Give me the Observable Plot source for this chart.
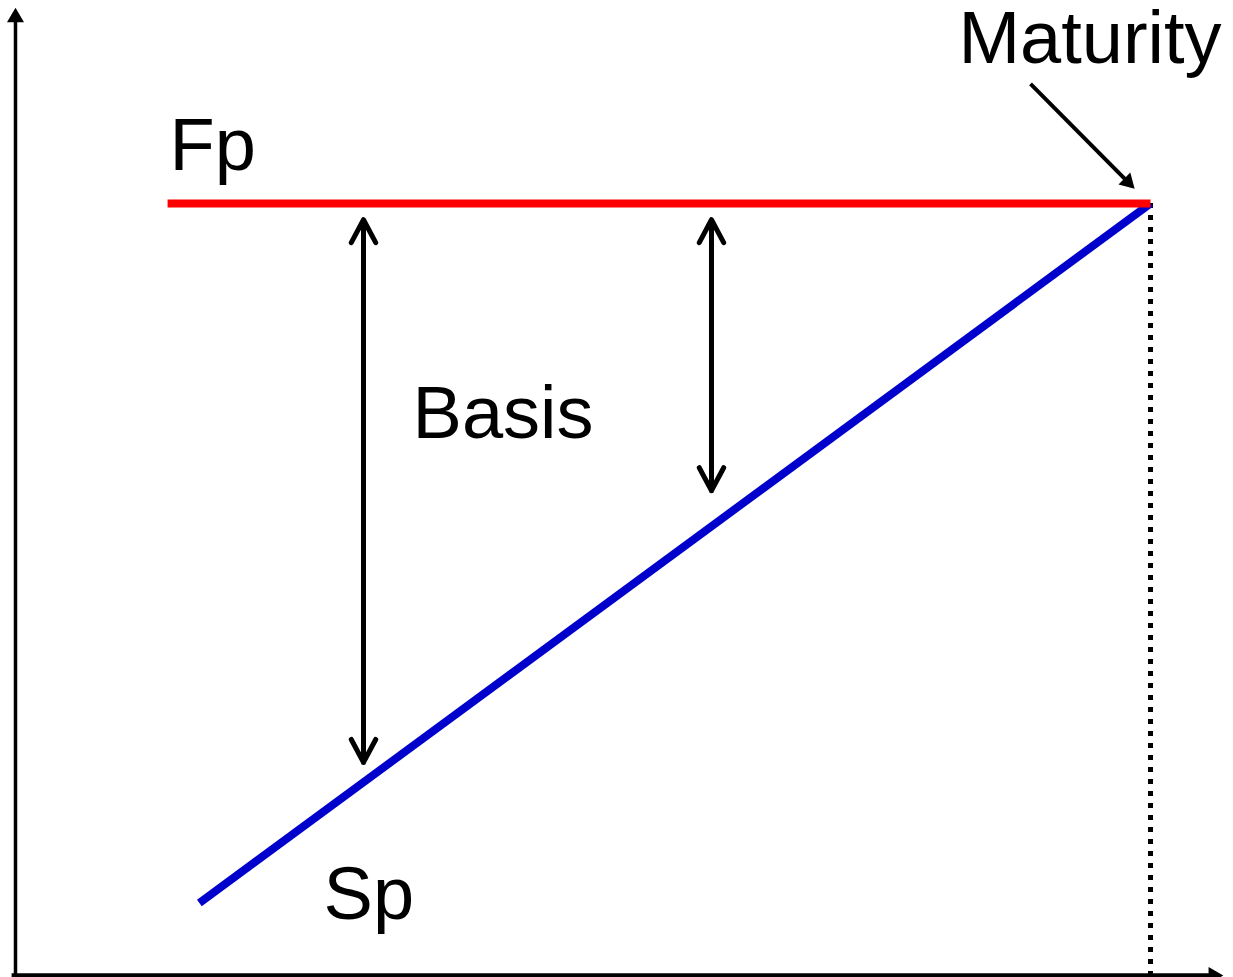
<!DOCTYPE html>
<html>
<head>
<meta charset="utf-8">
<script src="https://cdn.jsdelivr.net/npm/d3@7"></script>
<script src="https://cdn.jsdelivr.net/npm/@observablehq/plot@0.6"></script>
<style>
  html, body { margin: 0; padding: 0; background: #fff; overflow: hidden; }
  #chart svg { display: block; }
</style>
</head>
<body>
<div id="chart"></div>
<script>
// Time runs from 0 to maturity (10); price in arbitrary units (futures price = 100)
const maturity = 10;
const futuresPrice = [{t: 1.34, p: 100}, {t: 10, p: 100}];
const spotPrice = [{t: 1.62, p: 9.4}, {t: 10, p: 100}];
const basisArrows = [
  {t: 3.066, top: 97.9, bottom: 27.6},
  {t: 6.132, top: 97.9, bottom: 62.8}
];
const maturityPointer = [{t1: 8.943, p1: 115.5, t2: 9.80, p2: 102.8}];
const axisEnds = {tMax: 10.555, pMax: 124.1};
const labels = [
  {text: "Fp", t: 1.357, p: 104.4},
  {text: "Basis", t: 3.498, p: 69.56},
  {text: "Sp", t: 2.714, p: 7.38},
  {text: "Maturity", t: 8.308, p: 118.26}
];

// expand double-headed arrows into two single-headed arrows from the middle
const arrowHalves = basisArrows.flatMap(d => {
  const mid = (d.top + d.bottom) / 2;
  return [
    {t: d.t, p1: mid, p2: d.top},
    {t: d.t, p1: mid, p2: d.bottom}
  ];
});

const font = "'Liberation Sans', Arial, Helvetica, sans-serif";

const chart = Plot.plot({
  width: 1233,
  height: 977,
  marginLeft: 15,
  marginRight: 83,
  marginTop: 203,
  marginBottom: 2,
  x: {domain: [0, maturity], axis: null},
  y: {domain: [0, 100], axis: null},
  style: {background: "#fff", fontFamily: font},
  marks: [
    // axes
    Plot.ruleX([0], {y1: -1, y2: axisEnds.pMax, stroke: "#000", strokeWidth: 3.5}),
    Plot.ruleY([0], {x1: -0.03, x2: axisEnds.tMax, stroke: "#000", strokeWidth: 4.5}),
    Plot.dot([{t: 0, p: axisEnds.pMax}], {x: "t", y: "p", symbol: "triangle", r: 6.3, fill: "#000", stroke: null, rotate: 0}),
    Plot.dot([{t: axisEnds.tMax, p: 0}], {x: "t", y: "p", symbol: "triangle", r: 6.3, fill: "#000", stroke: null, rotate: 90}),
    // maturity dotted line
    Plot.ruleX([maturity], {y1: 100, y2: 0, stroke: "#000", strokeWidth: 5, strokeDasharray: "5,7"}),
    // spot price
    Plot.line(spotPrice, {x: "t", y: "p", stroke: "#0000CC", strokeWidth: 8, strokeLinecap: "butt"}),
    // futures price
    Plot.line(futuresPrice, {x: "t", y: "p", stroke: "#FF0000", strokeWidth: 8, strokeLinecap: "butt"}),
    // basis arrows
    Plot.arrow(arrowHalves, {
      x1: "t", x2: "t", y1: "p1", y2: "p2",
      stroke: "#000", strokeWidth: 5, headLength: 7.8, headAngle: 56,
      strokeLinecap: "round", strokeLinejoin: "round"
    }),
    // maturity pointer
    Plot.link(maturityPointer, {x1: "t1", y1: "p1", x2: "t2", y2: "p2", stroke: "#000", strokeWidth: 4}),
    Plot.dot(maturityPointer, {x: "t2", y: "p2", symbol: "triangle", r: 6.2, fill: "#000", stroke: null, rotate: 135}),
    // labels
    Plot.text(labels, {
      x: "t", y: "p", text: "text",
      textAnchor: "start", lineAnchor: "bottom",
      fontSize: 74, fill: "#000", fontFamily: font
    })
  ]
});

document.getElementById("chart").appendChild(chart);
</script>
</body>
</html>
